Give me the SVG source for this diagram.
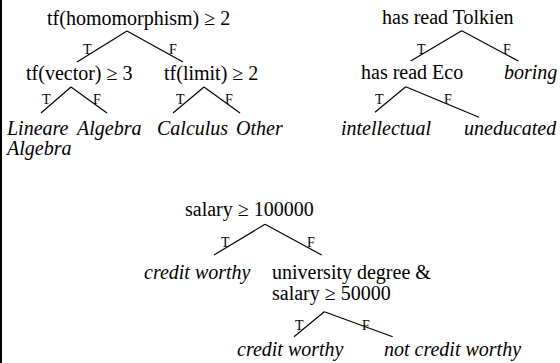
<svg xmlns="http://www.w3.org/2000/svg" width="560" height="363" viewBox="0 0 560 363">
<rect width="560" height="363" fill="#fff"/>
<rect x="0" y="0" width="2" height="363" fill="#000"/>
<g id="connectors" stroke="#000" stroke-width="1.2">
<line x1="127" y1="31" x2="77" y2="62"/>
<line x1="127" y1="31" x2="183" y2="62"/>
<line x1="71" y1="87" x2="41" y2="113"/>
<line x1="71" y1="87" x2="107" y2="113"/>
<line x1="204" y1="87" x2="173" y2="113"/>
<line x1="204" y1="87" x2="240" y2="113"/>
<line x1="461.7" y1="30.7" x2="410.7" y2="61"/>
<line x1="461.7" y1="30.7" x2="518.3" y2="61"/>
<line x1="405.7" y1="86.7" x2="375" y2="112.3"/>
<line x1="405.7" y1="86.7" x2="479" y2="117.3"/>
<line x1="265" y1="224.3" x2="214" y2="255"/>
<line x1="265" y1="224.3" x2="321.7" y2="255"/>
<line x1="324.3" y1="311.7" x2="294" y2="336.7"/>
<line x1="324.3" y1="311.7" x2="392.7" y2="336.7"/>
</g>
<g id="edge-labels">
<text style="font-family:'Liberation Serif',serif;font-size:14px" x="83" y="54">T</text>
<text style="font-family:'Liberation Serif',serif;font-size:14px" x="169" y="54">F</text>
<text style="font-family:'Liberation Serif',serif;font-size:14px" x="42" y="104">T</text>
<text style="font-family:'Liberation Serif',serif;font-size:14px" x="93" y="104">F</text>
<text style="font-family:'Liberation Serif',serif;font-size:14px" x="176" y="104">T</text>
<text style="font-family:'Liberation Serif',serif;font-size:14px" x="225" y="104">F</text>
<text style="font-family:'Liberation Serif',serif;font-size:14px" x="417" y="54">T</text>
<text style="font-family:'Liberation Serif',serif;font-size:14px" x="503" y="54">F</text>
<text style="font-family:'Liberation Serif',serif;font-size:14px" x="375" y="104">T</text>
<text style="font-family:'Liberation Serif',serif;font-size:14px" x="444" y="104">F</text>
<text style="font-family:'Liberation Serif',serif;font-size:14px" x="221" y="247">T</text>
<text style="font-family:'Liberation Serif',serif;font-size:14px" x="307" y="247">F</text>
<text style="font-family:'Liberation Serif',serif;font-size:14px" x="295" y="330">T</text>
<text style="font-family:'Liberation Serif',serif;font-size:14px" x="362" y="330">F</text>
</g>
<g id="n-homomorphism"><text style="font-family:'Liberation Serif',serif;font-size:20px" x="47" y="25">tf(homomorphism) ≥ 2</text></g>
<g id="n-vector"><text style="font-family:'Liberation Serif',serif;font-size:20px" x="26" y="80">tf(vector) ≥ 3</text></g>
<g id="n-limit"><text style="font-family:'Liberation Serif',serif;font-size:20px" x="164" y="80">tf(limit) ≥ 2</text></g>
<g id="leaf-lineare"><text style="font-family:'Liberation Serif',serif;font-size:20px;font-style:italic" x="7" y="135">Lineare</text><text style="font-family:'Liberation Serif',serif;font-size:20px;font-style:italic" x="7" y="155">Algebra</text></g>
<g id="leaf-algebra"><text style="font-family:'Liberation Serif',serif;font-size:20px;font-style:italic" x="77" y="135">Algebra</text></g>
<g id="leaf-calculus"><text style="font-family:'Liberation Serif',serif;font-size:20px;font-style:italic" x="157" y="135">Calculus</text></g>
<g id="leaf-other"><text style="font-family:'Liberation Serif',serif;font-size:20px;font-style:italic" x="236" y="135">Other</text></g>
<g id="n-tolkien"><text style="font-family:'Liberation Serif',serif;font-size:20px" x="382" y="24">has read Tolkien</text></g>
<g id="n-eco"><text style="font-family:'Liberation Serif',serif;font-size:20px" x="361" y="79">has read Eco</text></g>
<g id="leaf-boring"><text style="font-family:'Liberation Serif',serif;font-size:20px;font-style:italic" x="504" y="79">boring</text></g>
<g id="leaf-intellectual"><text style="font-family:'Liberation Serif',serif;font-size:20px;font-style:italic" x="341" y="135">intellectual</text></g>
<g id="leaf-uneducated"><text style="font-family:'Liberation Serif',serif;font-size:20px;font-style:italic" x="464" y="135">uneducated</text></g>
<g id="n-salary"><text style="font-family:'Liberation Serif',serif;font-size:20px" x="185" y="216">salary ≥ 100000</text></g>
<g id="leaf-credit1"><text style="font-family:'Liberation Serif',serif;font-size:20px;font-style:italic" x="144" y="279">credit worthy</text></g>
<g id="n-degree"><text style="font-family:'Liberation Serif',serif;font-size:20px" x="272" y="279">university degree &amp;</text><text style="font-family:'Liberation Serif',serif;font-size:20px" x="272" y="300">salary ≥ 50000</text></g>
<g id="leaf-credit2"><text style="font-family:'Liberation Serif',serif;font-size:20px;font-style:italic" x="237" y="356">credit worthy</text></g>
<g id="leaf-notcredit"><text style="font-family:'Liberation Serif',serif;font-size:20px;font-style:italic" x="384" y="356">not credit worthy</text></g>
</svg>
